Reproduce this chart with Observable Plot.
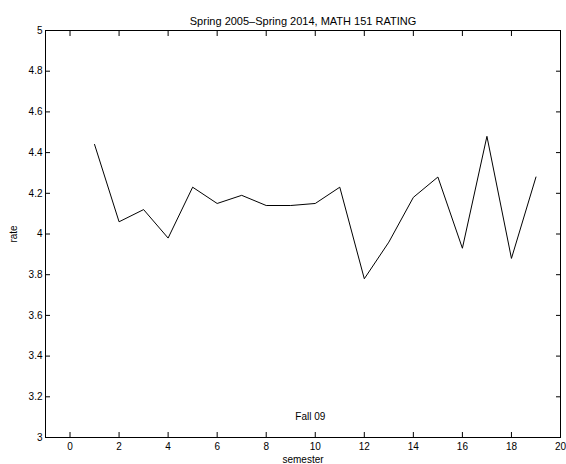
<!DOCTYPE html>
<html>
<head>
<meta charset="utf-8">
<script src="https://cdn.jsdelivr.net/npm/d3@7"></script>
<script src="https://cdn.jsdelivr.net/npm/@observablehq/plot@0.6"></script>
<style>
  html, body { margin: 0; padding: 0; background: #fff; }
  svg { font-family: "Liberation Sans", Arial, Helvetica, sans-serif; }
</style>
</head>
<body>
<div id="chart"></div>
<script>
const semester = [1, 2, 3, 4, 5, 6, 7, 8, 9, 10, 11, 12, 13, 14, 15, 16, 17, 18, 19];
const rating = [4.44, 4.06, 4.12, 3.98, 4.23, 4.15, 4.19, 4.14, 4.14, 4.15, 4.23, 3.78, 3.96, 4.18, 4.28, 3.93, 4.48, 3.88, 4.28];
const xTicks = [0, 2, 4, 6, 8, 10, 12, 14, 16, 18, 20];
const yTicks = [3, 3.2, 3.4, 3.6, 3.8, 4, 4.2, 4.4, 4.6, 4.8, 5];
const titleText = "Spring 2005\u2013Spring 2014, MATH 151 RATING";
const annotation = [{x: 9.8, y: 3.1, label: "Fall 09"}];

const data = semester.map((s, i) => ({semester: s, rating: rating[i]}));
const blank = () => "";

const chart = Plot.plot({
  width: 566,
  height: 464,
  marginTop: 30,
  marginRight: 6,
  marginBottom: 27,
  marginLeft: 45,
  style: {fontFamily: "'Liberation Sans', Arial, sans-serif", fontSize: "10px", color: "black", background: "white"},
  x: {domain: [-1, 20]},
  y: {domain: [3, 5]},
  marks: [
    Plot.frame({stroke: "black", strokeWidth: 1}),
    // inward ticks on all four sides
    Plot.axisX({anchor: "bottom", ticks: xTicks, tickSize: -5, tickFormat: blank, label: null}),
    Plot.axisX({anchor: "top", ticks: xTicks, tickSize: -5, tickFormat: blank, label: null}),
    Plot.axisY({anchor: "left", ticks: yTicks, tickSize: -5, tickFormat: blank, label: null}),
    Plot.axisY({anchor: "right", ticks: yTicks, tickSize: -5, tickFormat: blank, label: null}),
    // tick labels
    Plot.axisX({anchor: "bottom", ticks: xTicks, tickSize: 0, tickPadding: 5, tickFormat: d => String(d),
      label: "semester", labelAnchor: "center", labelOffset: 25, labelArrow: "none"}),
    Plot.axisY({anchor: "left", ticks: yTicks, tickSize: 0, tickPadding: 3, tickFormat: d => String(d),
      label: "rate", labelAnchor: "center", labelOffset: 36, labelArrow: "none"}),
    Plot.line(data, {x: "semester", y: "rating", stroke: "black", strokeWidth: 1}),
    Plot.text(annotation, {x: "x", y: "y", text: "label", fill: "black", fontSize: 10}),
    Plot.text([titleText], {frameAnchor: "top", dy: -13, text: d => d, fill: "black", fontSize: 11})
  ]
});
document.getElementById("chart").appendChild(chart);
</script>
</body>
</html>
